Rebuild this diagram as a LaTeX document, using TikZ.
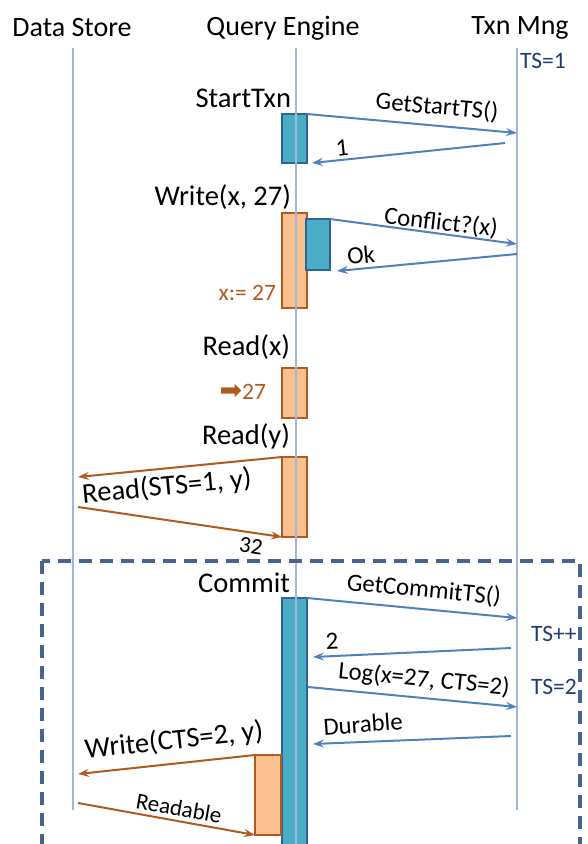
\documentclass[tikz,border=0pt]{standalone}
\usepackage{fontspec}
\setmainfont{Carlito}
\newfontfamily\symfont{DejaVu Sans}
\usetikzlibrary{arrows.meta}
\definecolor{boxblue}{HTML}{4BACC6}
\definecolor{boxblueline}{HTML}{2F6594}
\definecolor{boxorange}{HTML}{FAC090}
\definecolor{orangeline}{HTML}{B05A1E}
\definecolor{arrowblue}{HTML}{4F81BD}
\definecolor{lifeblue}{HTML}{9DB8DB}
\definecolor{navy}{HTML}{1F3C70}
\definecolor{dashcol}{HTML}{46648F}
\begin{document}
\begin{tikzpicture}[x=1pt,y=-1pt,
  every node/.style={inner sep=0pt, outer sep=0pt},
  hdr/.style={font=\fontsize{28}{32}\selectfont},
  lbl/.style={font=\fontsize{28.5}{32}\selectfont, anchor=east},
  msg/.style={font=\fontsize{24.8}{28}\selectfont},
  omsgl/.style={font=\fontsize{28.5}{32}\selectfont},
  smsg/.style={font=\fontsize{23}{26}\selectfont},
  life/.style={draw=lifeblue, line width=1.5pt},
  bbox/.style={draw=boxblueline, fill=boxblue, line width=2.5pt, rectangle},
  obox/.style={draw=orangeline, fill=boxorange, line width=2.5pt, rectangle},
  bmsg/.style={draw=arrowblue, line width=2pt, -{Stealth[length=11pt,width=8pt,inset=4pt]}},
  omsg/.style={draw=orangeline, line width=2pt, -{Stealth[length=11pt,width=8pt,inset=4pt]}},
  ts/.style={font=\fontsize{23.5}{26}\selectfont, text=navy, anchor=west},
  onote/.style={font=\fontsize{23.5}{26}\selectfont, text=orangeline, anchor=east},
  frame/.style={draw=dashcol, line width=3.5pt, dash pattern=on 13pt off 8pt}
]
\useasboundingbox (0,0) rectangle (587,844);

% headers
\node[hdr] (hds) at (72,28) {Data Store};
\node[hdr] (hqe) at (283,28) {Query Engine};
\node[hdr] (htm) at (520,28) {Txn Mng};
\node[ts] (ts1) at (520,61) {TS=1};

% boxes
\node[bbox, minimum width=25pt, minimum height=49pt] (st) at (294.5,138.5) {};
\node[obox, minimum width=25pt, minimum height=95pt] (wr) at (294.5,260.5) {};
\node[bbox, minimum width=24pt, minimum height=51pt] (cf) at (318,244.5) {};
\node[obox, minimum width=25pt, minimum height=50pt] (rx) at (294.5,393) {};
\node[obox, minimum width=25pt, minimum height=80pt] (ry) at (294.5,497) {};
\node[bbox, minimum width=25pt, minimum height=262pt] (cm) at (294.5,729) {};
\node[obox, minimum width=26pt, minimum height=80pt] (wy) at (268,795) {};

% lifelines
\coordinate (dsTop) at (73,48);
\coordinate (dsBot) at (73,810);
\coordinate (qeTop) at (296,48);
\coordinate (qeBot) at (296,846);
\coordinate (tmTop) at (517,48);
\coordinate (tmBot) at (517,810);
\draw[life] (dsTop) -- (dsBot);
\draw[life] (qeTop) -- (qeBot);
\draw[life] (tmTop) -- (tmBot);

% step labels
\node[lbl] (lst) at (291,98) {StartTxn};
\node[lbl] (lwr) at (291,197) {Write(x, 27)};
\node[onote] (lxa) at (276,293) {x:= 27};
\node[lbl] (lrx) at (290,347) {Read(x)};
\node[onote] (lrv) at (266,392) {{\symfont\fontsize{27}{28}\selectfont ➡}27};
\node[lbl] (lry) at (290,436) {Read(y)};
\node[lbl] (lcm) at (290,583) {Commit};
\node[ts] (tspp) at (531,634) {TS++};
\node[ts] (ts2) at (531,687) {TS=2};

% messages
\coordinate (t1) at (517,133);
\draw[bmsg] (st.north east) -- (t1);
\node[msg, rotate=-5] (m1) at (437,107) {GetStartTS()};

\coordinate (s2) at (505,143);
\coordinate (e2) at (312,163);
\draw[bmsg] (s2) -- (e2);
\node[msg, rotate=6] (m2) at (342,148) {1};

\coordinate (t3) at (517,244);
\draw[bmsg] (cf.north east) -- (t3);
\node[msg, rotate=-6.5] (m3) at (441,223) {Conflict?(x)};

\coordinate (s4) at (517,254);
\coordinate (e4) at (337,271);
\draw[bmsg] (s4) -- (e4);
\node[msg, rotate=5.5] (m4) at (361,255) {Ok};

\coordinate (t5) at (78,477);
\draw[omsg] (ry.north west) -- (t5);
\node[omsgl, rotate=5.5] (m5) at (167,487) {Read(STS=1, y)};

\coordinate (s6) at (78,507);
\draw[omsg] (s6) -- (ry.south west);
\node[smsg, rotate=-8.5] (m6) at (251,546) {32};

\coordinate (t7) at (517,618);
\draw[bmsg] (cm.north east) -- (t7);
\node[msg, rotate=-5.4] (m7) at (424,590) {GetCommitTS()};

\coordinate (s8) at (511,648);
\coordinate (e8) at (313,657);
\draw[bmsg] (s8) -- (e8);
\node[msg, rotate=2.6] (m8) at (332,641) {2};

\coordinate (s9) at (308,687);
\coordinate (t9) at (517,707);
\draw[bmsg] (s9) -- (t9);
\node[msg, rotate=-5.5] (m9) at (424,680) {Log(x=27, CTS=2)};

\coordinate (s10) at (511,736);
\coordinate (e10) at (313,744);
\draw[bmsg] (s10) -- (e10);
\node[msg, rotate=4] (m10) at (363,724) {Durable};

\coordinate (t11) at (78,774);
\draw[omsg] (wy.north west) -- (t11);
\node[omsgl, rotate=6] (m11) at (174,741) {Write(CTS=2, y)};

\coordinate (s12) at (78,803);
\draw[omsg] (s12) -- (wy.south west);
\node[smsg, rotate=-10] (m12) at (179,808) {Readable};

% commit frame
\coordinate (fr1) at (42,561);
\coordinate (fr2) at (580,846);
\draw[frame] (fr1) rectangle (fr2);
\end{tikzpicture}
\end{document}
